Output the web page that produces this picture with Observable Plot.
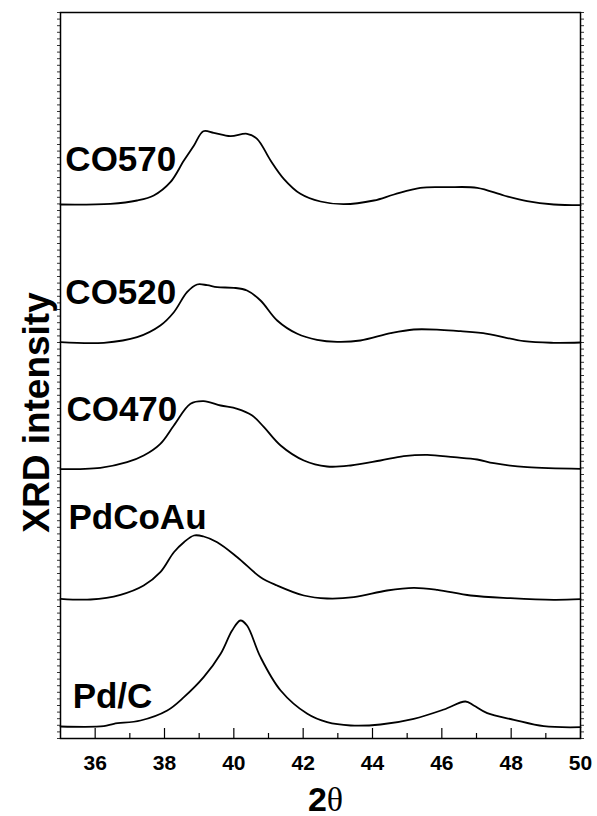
<!DOCTYPE html>
<html><head><meta charset="utf-8">
<script src="https://cdn.jsdelivr.net/npm/d3@7"></script>
<script src="https://cdn.jsdelivr.net/npm/@observablehq/plot@0.6"></script>
<style>html,body{margin:0;padding:0;background:#fff}</style>
</head><body><div id="chart"></div>
<script>
// Sample names (top to bottom) and vertical offsets of each trace
const names = ["CO570", "CO520", "CO470", "PdCoAu", "Pd/C"];
const offsets = [534, 396, 270, 139, 12];

// 2θ positions and intensities (arbitrary units, relative to each baseline)
const co570X = [35, 36.44, 37.21, 37.69, 38.17, 38.56, 38.85, 39.12, 39.42, 39.9, 40.38, 40.67, 41.06, 41.44, 41.92, 42.5, 43.17, 44.04, 44.62, 45.38, 46.15, 47.02, 47.79, 48.46, 49.23, 50];
const co570Y = [0, 0.7, 4, 9, 22.3, 44, 59, 73.3, 71.7, 68.3, 70.7, 65.7, 44, 25.7, 10.7, 3, 0.3, 4, 10, 16.7, 17.3, 16.7, 9, 3.3, 0, -0.7];

const co520X = [35, 36.25, 37.21, 37.88, 38.27, 38.65, 38.94, 39.23, 39.52, 40, 40.38, 40.77, 41.25, 41.83, 42.4, 42.98, 43.65, 44.52, 45.19, 45.96, 46.54, 47.31, 48.37, 49.23, 50];
const co520Y = [0.3, -0.3, 5.3, 17, 30.3, 50.3, 58, 57.3, 55.3, 54.7, 52, 42, 22, 8.7, 2.7, 0.7, 2, 9.3, 13, 12.7, 11.3, 8.7, 1.3, -0.3, 0];

const co470X = [35, 36.15, 36.92, 37.4, 37.88, 38.27, 38.75, 39.13, 39.62, 40.1, 40.53, 40.87, 41.35, 42.02, 42.69, 43.37, 44.23, 44.9, 45.58, 46.35, 47.02, 47.5, 48.46, 50];
const co470Y = [-0.7, 0.7, 6.3, 13, 24.7, 43, 64.7, 67.3, 63, 59.7, 53, 41.3, 23, 8, 2, 3, 8, 12.3, 13.7, 11.3, 9, 5.3, 1.3, -0.3];

const pdcoauX = [35, 35.87, 36.73, 37.4, 37.88, 38.27, 38.56, 38.85, 39.13, 39.52, 40.1, 40.77, 41.25, 42.02, 42.69, 43.46, 44.42, 45.19, 45.87, 46.83, 47.98, 49.23, 50];
const pdcoauY = [0.7, 0, 4.7, 14, 27.3, 47.3, 57.3, 64, 63, 57.3, 42.3, 22.3, 14, 4, 1, 2.3, 9, 11.7, 9.7, 4, 1.3, -0.3, 0.3];

const pdcX = [35, 36.25, 36.54, 37.31, 38.08, 38.56, 39.13, 39.62, 39.95, 40.19, 40.38, 40.77, 41.35, 42.12, 42.69, 43.37, 44.23, 45.19, 46.06, 46.68, 46.92, 47.31, 48.08, 48.94, 50];
const pdcY = [0, 0.3, 2.7, 6, 16, 29.3, 49.3, 72.7, 96, 106, 101, 69.3, 36, 12.7, 4.3, 1, 2, 7.7, 17, 25, 21, 13.3, 6.7, 0.3, -0.7];

// Axis tick values
const xMajor = [36, 38, 40, 42, 44, 46, 48, 50];
const xMinor = [37, 39, 41, 43, 45, 47, 49];

// Layout (not data): where each sample label sits, in axis units
const labelAt = {x: [35.14, 35.14, 35.17, 35.23, 35.35], y: [568, 435, 318, 210, 31]};

const seriesX = [co570X, co520X, co470X, pdcoauX, pdcX];
const seriesY = [co570Y, co520Y, co470Y, pdcoauY, pdcY];
const rows = [];
names.forEach((n, i) => seriesX[i].forEach((x, j) => rows.push({name: n, x, y: seriesY[i][j] + offsets[i]})));
const labels = names.map((n, i) => ({name: n, x: labelAt.x[i], y: labelAt.y[i]}));
const yTicks = d3.range(0, 727, 6.6);

const plot = Plot.plot({
  width: 597, height: 816,
  marginLeft: 60, marginRight: 17, marginTop: 12, marginBottom: 78,
  style: {fontFamily: "'Liberation Sans', Arial, sans-serif", background: "#fff", color: "#000", overflow: "visible"},
  x: {domain: [35, 50], label: null},
  y: {domain: [0, 726], label: null},
  marks: [
    Plot.axisY({anchor: "left", ticks: yTicks, tickSize: 3, tickFormat: () => "", label: null, strokeWidth: 0.8}),
    Plot.axisY({anchor: "right", ticks: yTicks, tickSize: 3, tickFormat: () => "", label: null, strokeWidth: 0.8}),
    Plot.axisX({ticks: xMajor, tickSize: 0, tickPadding: 17, fontSize: 21, fontWeight: "bold", label: null}),
    Plot.ruleX(xMajor, {y1: 0, y2: 10, stroke: "#000", strokeWidth: 1.2}),
    Plot.ruleX(xMinor, {y1: 0, y2: 5, stroke: "#000", strokeWidth: 1.2}),
    Plot.frame({stroke: "#000", strokeWidth: 1.5}),
    Plot.line(rows, {x: "x", y: "y", z: "name", curve: "catmull-rom", stroke: "#000", strokeWidth: 1.8}),
    Plot.text(labels, {x: "x", y: "y", text: "name", textAnchor: "start", lineAnchor: "bottom", fontSize: 35, fontWeight: "bold", fill: "#000"}),
    Plot.text(["XRD intensity"], {text: d => d, frameAnchor: "left", textAnchor: "middle", rotate: -90, dx: -12, dy: 37, lineAnchor: "bottom", fontSize: 37, fontWeight: "bold", fill: "#000"}),
    Plot.text(["2θ"], {text: d => d, frameAnchor: "bottom", textAnchor: "middle", dx: 5, dy: 72, lineAnchor: "bottom", fontSize: 34, fontWeight: "bold", fill: "#000"})
  ]
});
// Render θ in a serif face, as in the original axis title
d3.select(plot).selectAll("text").filter(function () { return this.textContent === "2θ"; }).each(function () {
  const t = d3.select(this);
  t.text(null);
  t.append("tspan").text("2");
  t.append("tspan").attr("font-family", "'Liberation Serif', 'DejaVu Serif', serif").attr("font-weight", "normal").text("θ");
});
document.getElementById("chart").appendChild(plot);
</script>
</body></html>
